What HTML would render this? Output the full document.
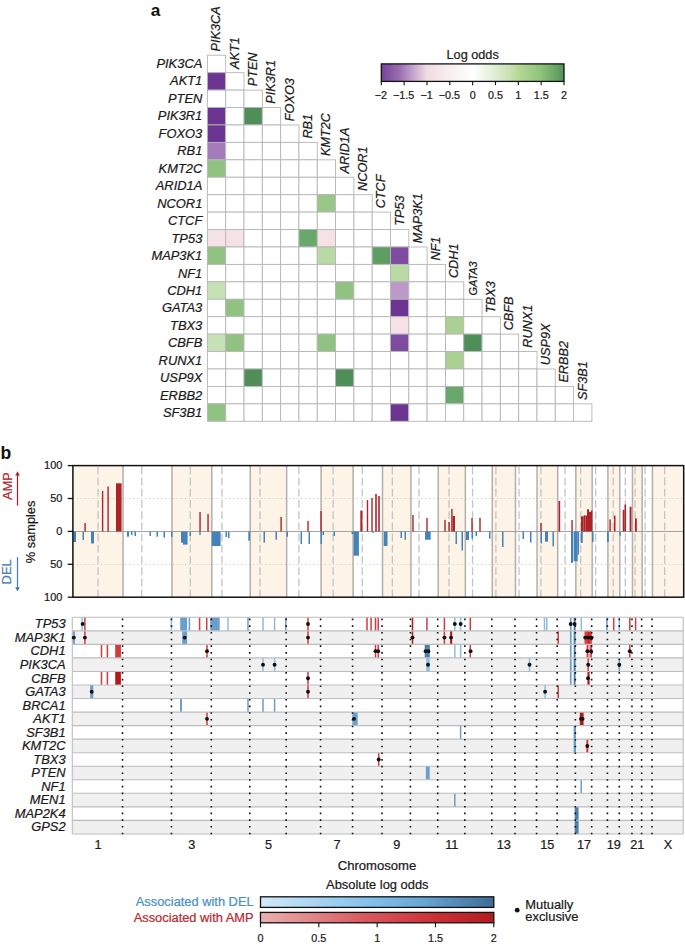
<!DOCTYPE html>
<html><head><meta charset="utf-8"><style>
html,body{margin:0;padding:0;background:#fff;width:685px;height:944px;overflow:hidden;}
svg{display:block;}
svg text{font-family:"Liberation Sans", sans-serif;}
</style></head><body>
<svg width="685" height="944" viewBox="0 0 685 944">
<rect width="685" height="944" fill="#fff"/>
<g>
<rect x="207.40" y="55.25" width="18.31" height="17.43" fill="#ffffff" stroke="#b6b6b6" stroke-width="0.9"/>
<rect x="207.40" y="72.68" width="18.31" height="17.43" fill="#6c3592" stroke="#b6b6b6" stroke-width="0.9"/>
<rect x="225.71" y="72.68" width="18.31" height="17.43" fill="#ffffff" stroke="#b6b6b6" stroke-width="0.9"/>
<rect x="207.40" y="90.11" width="18.31" height="17.43" fill="#ffffff" stroke="#b6b6b6" stroke-width="0.9"/>
<rect x="225.71" y="90.11" width="18.31" height="17.43" fill="#ffffff" stroke="#b6b6b6" stroke-width="0.9"/>
<rect x="244.02" y="90.11" width="18.31" height="17.43" fill="#ffffff" stroke="#b6b6b6" stroke-width="0.9"/>
<rect x="207.40" y="107.54" width="18.31" height="17.43" fill="#6c3592" stroke="#b6b6b6" stroke-width="0.9"/>
<rect x="225.71" y="107.54" width="18.31" height="17.43" fill="#ffffff" stroke="#b6b6b6" stroke-width="0.9"/>
<rect x="244.02" y="107.54" width="18.31" height="17.43" fill="#4f8d59" stroke="#b6b6b6" stroke-width="0.9"/>
<rect x="262.33" y="107.54" width="18.31" height="17.43" fill="#ffffff" stroke="#b6b6b6" stroke-width="0.9"/>
<rect x="207.40" y="124.97" width="18.31" height="17.43" fill="#6c3592" stroke="#b6b6b6" stroke-width="0.9"/>
<rect x="225.71" y="124.97" width="18.31" height="17.43" fill="#ffffff" stroke="#b6b6b6" stroke-width="0.9"/>
<rect x="244.02" y="124.97" width="18.31" height="17.43" fill="#ffffff" stroke="#b6b6b6" stroke-width="0.9"/>
<rect x="262.33" y="124.97" width="18.31" height="17.43" fill="#ffffff" stroke="#b6b6b6" stroke-width="0.9"/>
<rect x="280.64" y="124.97" width="18.31" height="17.43" fill="#ffffff" stroke="#b6b6b6" stroke-width="0.9"/>
<rect x="207.40" y="142.40" width="18.31" height="17.43" fill="#a57bbb" stroke="#b6b6b6" stroke-width="0.9"/>
<rect x="225.71" y="142.40" width="18.31" height="17.43" fill="#ffffff" stroke="#b6b6b6" stroke-width="0.9"/>
<rect x="244.02" y="142.40" width="18.31" height="17.43" fill="#ffffff" stroke="#b6b6b6" stroke-width="0.9"/>
<rect x="262.33" y="142.40" width="18.31" height="17.43" fill="#ffffff" stroke="#b6b6b6" stroke-width="0.9"/>
<rect x="280.64" y="142.40" width="18.31" height="17.43" fill="#ffffff" stroke="#b6b6b6" stroke-width="0.9"/>
<rect x="298.95" y="142.40" width="18.31" height="17.43" fill="#ffffff" stroke="#b6b6b6" stroke-width="0.9"/>
<rect x="207.40" y="159.83" width="18.31" height="17.43" fill="#90c281" stroke="#b6b6b6" stroke-width="0.9"/>
<rect x="225.71" y="159.83" width="18.31" height="17.43" fill="#ffffff" stroke="#b6b6b6" stroke-width="0.9"/>
<rect x="244.02" y="159.83" width="18.31" height="17.43" fill="#ffffff" stroke="#b6b6b6" stroke-width="0.9"/>
<rect x="262.33" y="159.83" width="18.31" height="17.43" fill="#ffffff" stroke="#b6b6b6" stroke-width="0.9"/>
<rect x="280.64" y="159.83" width="18.31" height="17.43" fill="#ffffff" stroke="#b6b6b6" stroke-width="0.9"/>
<rect x="298.95" y="159.83" width="18.31" height="17.43" fill="#ffffff" stroke="#b6b6b6" stroke-width="0.9"/>
<rect x="317.26" y="159.83" width="18.31" height="17.43" fill="#ffffff" stroke="#b6b6b6" stroke-width="0.9"/>
<rect x="207.40" y="177.26" width="18.31" height="17.43" fill="#ffffff" stroke="#b6b6b6" stroke-width="0.9"/>
<rect x="225.71" y="177.26" width="18.31" height="17.43" fill="#ffffff" stroke="#b6b6b6" stroke-width="0.9"/>
<rect x="244.02" y="177.26" width="18.31" height="17.43" fill="#ffffff" stroke="#b6b6b6" stroke-width="0.9"/>
<rect x="262.33" y="177.26" width="18.31" height="17.43" fill="#ffffff" stroke="#b6b6b6" stroke-width="0.9"/>
<rect x="280.64" y="177.26" width="18.31" height="17.43" fill="#ffffff" stroke="#b6b6b6" stroke-width="0.9"/>
<rect x="298.95" y="177.26" width="18.31" height="17.43" fill="#ffffff" stroke="#b6b6b6" stroke-width="0.9"/>
<rect x="317.26" y="177.26" width="18.31" height="17.43" fill="#ffffff" stroke="#b6b6b6" stroke-width="0.9"/>
<rect x="335.57" y="177.26" width="18.31" height="17.43" fill="#ffffff" stroke="#b6b6b6" stroke-width="0.9"/>
<rect x="207.40" y="194.69" width="18.31" height="17.43" fill="#ffffff" stroke="#b6b6b6" stroke-width="0.9"/>
<rect x="225.71" y="194.69" width="18.31" height="17.43" fill="#ffffff" stroke="#b6b6b6" stroke-width="0.9"/>
<rect x="244.02" y="194.69" width="18.31" height="17.43" fill="#ffffff" stroke="#b6b6b6" stroke-width="0.9"/>
<rect x="262.33" y="194.69" width="18.31" height="17.43" fill="#ffffff" stroke="#b6b6b6" stroke-width="0.9"/>
<rect x="280.64" y="194.69" width="18.31" height="17.43" fill="#ffffff" stroke="#b6b6b6" stroke-width="0.9"/>
<rect x="298.95" y="194.69" width="18.31" height="17.43" fill="#ffffff" stroke="#b6b6b6" stroke-width="0.9"/>
<rect x="317.26" y="194.69" width="18.31" height="17.43" fill="#98c788" stroke="#b6b6b6" stroke-width="0.9"/>
<rect x="335.57" y="194.69" width="18.31" height="17.43" fill="#ffffff" stroke="#b6b6b6" stroke-width="0.9"/>
<rect x="353.88" y="194.69" width="18.31" height="17.43" fill="#ffffff" stroke="#b6b6b6" stroke-width="0.9"/>
<rect x="207.40" y="212.12" width="18.31" height="17.43" fill="#ffffff" stroke="#b6b6b6" stroke-width="0.9"/>
<rect x="225.71" y="212.12" width="18.31" height="17.43" fill="#ffffff" stroke="#b6b6b6" stroke-width="0.9"/>
<rect x="244.02" y="212.12" width="18.31" height="17.43" fill="#ffffff" stroke="#b6b6b6" stroke-width="0.9"/>
<rect x="262.33" y="212.12" width="18.31" height="17.43" fill="#ffffff" stroke="#b6b6b6" stroke-width="0.9"/>
<rect x="280.64" y="212.12" width="18.31" height="17.43" fill="#ffffff" stroke="#b6b6b6" stroke-width="0.9"/>
<rect x="298.95" y="212.12" width="18.31" height="17.43" fill="#ffffff" stroke="#b6b6b6" stroke-width="0.9"/>
<rect x="317.26" y="212.12" width="18.31" height="17.43" fill="#ffffff" stroke="#b6b6b6" stroke-width="0.9"/>
<rect x="335.57" y="212.12" width="18.31" height="17.43" fill="#ffffff" stroke="#b6b6b6" stroke-width="0.9"/>
<rect x="353.88" y="212.12" width="18.31" height="17.43" fill="#ffffff" stroke="#b6b6b6" stroke-width="0.9"/>
<rect x="372.19" y="212.12" width="18.31" height="17.43" fill="#ffffff" stroke="#b6b6b6" stroke-width="0.9"/>
<rect x="207.40" y="229.55" width="18.31" height="17.43" fill="#f5e2e4" stroke="#b6b6b6" stroke-width="0.9"/>
<rect x="225.71" y="229.55" width="18.31" height="17.43" fill="#f5e2e4" stroke="#b6b6b6" stroke-width="0.9"/>
<rect x="244.02" y="229.55" width="18.31" height="17.43" fill="#ffffff" stroke="#b6b6b6" stroke-width="0.9"/>
<rect x="262.33" y="229.55" width="18.31" height="17.43" fill="#ffffff" stroke="#b6b6b6" stroke-width="0.9"/>
<rect x="280.64" y="229.55" width="18.31" height="17.43" fill="#ffffff" stroke="#b6b6b6" stroke-width="0.9"/>
<rect x="298.95" y="229.55" width="18.31" height="17.43" fill="#68a86c" stroke="#b6b6b6" stroke-width="0.9"/>
<rect x="317.26" y="229.55" width="18.31" height="17.43" fill="#f5e2e4" stroke="#b6b6b6" stroke-width="0.9"/>
<rect x="335.57" y="229.55" width="18.31" height="17.43" fill="#ffffff" stroke="#b6b6b6" stroke-width="0.9"/>
<rect x="353.88" y="229.55" width="18.31" height="17.43" fill="#ffffff" stroke="#b6b6b6" stroke-width="0.9"/>
<rect x="372.19" y="229.55" width="18.31" height="17.43" fill="#ffffff" stroke="#b6b6b6" stroke-width="0.9"/>
<rect x="390.50" y="229.55" width="18.31" height="17.43" fill="#ffffff" stroke="#b6b6b6" stroke-width="0.9"/>
<rect x="207.40" y="246.98" width="18.31" height="17.43" fill="#90c281" stroke="#b6b6b6" stroke-width="0.9"/>
<rect x="225.71" y="246.98" width="18.31" height="17.43" fill="#ffffff" stroke="#b6b6b6" stroke-width="0.9"/>
<rect x="244.02" y="246.98" width="18.31" height="17.43" fill="#ffffff" stroke="#b6b6b6" stroke-width="0.9"/>
<rect x="262.33" y="246.98" width="18.31" height="17.43" fill="#ffffff" stroke="#b6b6b6" stroke-width="0.9"/>
<rect x="280.64" y="246.98" width="18.31" height="17.43" fill="#ffffff" stroke="#b6b6b6" stroke-width="0.9"/>
<rect x="298.95" y="246.98" width="18.31" height="17.43" fill="#ffffff" stroke="#b6b6b6" stroke-width="0.9"/>
<rect x="317.26" y="246.98" width="18.31" height="17.43" fill="#b9daa4" stroke="#b6b6b6" stroke-width="0.9"/>
<rect x="335.57" y="246.98" width="18.31" height="17.43" fill="#ffffff" stroke="#b6b6b6" stroke-width="0.9"/>
<rect x="353.88" y="246.98" width="18.31" height="17.43" fill="#ffffff" stroke="#b6b6b6" stroke-width="0.9"/>
<rect x="372.19" y="246.98" width="18.31" height="17.43" fill="#5f9e63" stroke="#b6b6b6" stroke-width="0.9"/>
<rect x="390.50" y="246.98" width="18.31" height="17.43" fill="#7d4c9e" stroke="#b6b6b6" stroke-width="0.9"/>
<rect x="408.81" y="246.98" width="18.31" height="17.43" fill="#ffffff" stroke="#b6b6b6" stroke-width="0.9"/>
<rect x="207.40" y="264.41" width="18.31" height="17.43" fill="#ffffff" stroke="#b6b6b6" stroke-width="0.9"/>
<rect x="225.71" y="264.41" width="18.31" height="17.43" fill="#ffffff" stroke="#b6b6b6" stroke-width="0.9"/>
<rect x="244.02" y="264.41" width="18.31" height="17.43" fill="#ffffff" stroke="#b6b6b6" stroke-width="0.9"/>
<rect x="262.33" y="264.41" width="18.31" height="17.43" fill="#ffffff" stroke="#b6b6b6" stroke-width="0.9"/>
<rect x="280.64" y="264.41" width="18.31" height="17.43" fill="#ffffff" stroke="#b6b6b6" stroke-width="0.9"/>
<rect x="298.95" y="264.41" width="18.31" height="17.43" fill="#ffffff" stroke="#b6b6b6" stroke-width="0.9"/>
<rect x="317.26" y="264.41" width="18.31" height="17.43" fill="#ffffff" stroke="#b6b6b6" stroke-width="0.9"/>
<rect x="335.57" y="264.41" width="18.31" height="17.43" fill="#ffffff" stroke="#b6b6b6" stroke-width="0.9"/>
<rect x="353.88" y="264.41" width="18.31" height="17.43" fill="#ffffff" stroke="#b6b6b6" stroke-width="0.9"/>
<rect x="372.19" y="264.41" width="18.31" height="17.43" fill="#ffffff" stroke="#b6b6b6" stroke-width="0.9"/>
<rect x="390.50" y="264.41" width="18.31" height="17.43" fill="#b9daa4" stroke="#b6b6b6" stroke-width="0.9"/>
<rect x="408.81" y="264.41" width="18.31" height="17.43" fill="#ffffff" stroke="#b6b6b6" stroke-width="0.9"/>
<rect x="427.12" y="264.41" width="18.31" height="17.43" fill="#ffffff" stroke="#b6b6b6" stroke-width="0.9"/>
<rect x="207.40" y="281.84" width="18.31" height="17.43" fill="#c5e1b5" stroke="#b6b6b6" stroke-width="0.9"/>
<rect x="225.71" y="281.84" width="18.31" height="17.43" fill="#ffffff" stroke="#b6b6b6" stroke-width="0.9"/>
<rect x="244.02" y="281.84" width="18.31" height="17.43" fill="#ffffff" stroke="#b6b6b6" stroke-width="0.9"/>
<rect x="262.33" y="281.84" width="18.31" height="17.43" fill="#ffffff" stroke="#b6b6b6" stroke-width="0.9"/>
<rect x="280.64" y="281.84" width="18.31" height="17.43" fill="#ffffff" stroke="#b6b6b6" stroke-width="0.9"/>
<rect x="298.95" y="281.84" width="18.31" height="17.43" fill="#ffffff" stroke="#b6b6b6" stroke-width="0.9"/>
<rect x="317.26" y="281.84" width="18.31" height="17.43" fill="#ffffff" stroke="#b6b6b6" stroke-width="0.9"/>
<rect x="335.57" y="281.84" width="18.31" height="17.43" fill="#90c281" stroke="#b6b6b6" stroke-width="0.9"/>
<rect x="353.88" y="281.84" width="18.31" height="17.43" fill="#ffffff" stroke="#b6b6b6" stroke-width="0.9"/>
<rect x="372.19" y="281.84" width="18.31" height="17.43" fill="#ffffff" stroke="#b6b6b6" stroke-width="0.9"/>
<rect x="390.50" y="281.84" width="18.31" height="17.43" fill="#bc99c9" stroke="#b6b6b6" stroke-width="0.9"/>
<rect x="408.81" y="281.84" width="18.31" height="17.43" fill="#ffffff" stroke="#b6b6b6" stroke-width="0.9"/>
<rect x="427.12" y="281.84" width="18.31" height="17.43" fill="#ffffff" stroke="#b6b6b6" stroke-width="0.9"/>
<rect x="445.43" y="281.84" width="18.31" height="17.43" fill="#ffffff" stroke="#b6b6b6" stroke-width="0.9"/>
<rect x="207.40" y="299.27" width="18.31" height="17.43" fill="#ffffff" stroke="#b6b6b6" stroke-width="0.9"/>
<rect x="225.71" y="299.27" width="18.31" height="17.43" fill="#90c281" stroke="#b6b6b6" stroke-width="0.9"/>
<rect x="244.02" y="299.27" width="18.31" height="17.43" fill="#ffffff" stroke="#b6b6b6" stroke-width="0.9"/>
<rect x="262.33" y="299.27" width="18.31" height="17.43" fill="#ffffff" stroke="#b6b6b6" stroke-width="0.9"/>
<rect x="280.64" y="299.27" width="18.31" height="17.43" fill="#ffffff" stroke="#b6b6b6" stroke-width="0.9"/>
<rect x="298.95" y="299.27" width="18.31" height="17.43" fill="#ffffff" stroke="#b6b6b6" stroke-width="0.9"/>
<rect x="317.26" y="299.27" width="18.31" height="17.43" fill="#ffffff" stroke="#b6b6b6" stroke-width="0.9"/>
<rect x="335.57" y="299.27" width="18.31" height="17.43" fill="#ffffff" stroke="#b6b6b6" stroke-width="0.9"/>
<rect x="353.88" y="299.27" width="18.31" height="17.43" fill="#ffffff" stroke="#b6b6b6" stroke-width="0.9"/>
<rect x="372.19" y="299.27" width="18.31" height="17.43" fill="#ffffff" stroke="#b6b6b6" stroke-width="0.9"/>
<rect x="390.50" y="299.27" width="18.31" height="17.43" fill="#6c3592" stroke="#b6b6b6" stroke-width="0.9"/>
<rect x="408.81" y="299.27" width="18.31" height="17.43" fill="#ffffff" stroke="#b6b6b6" stroke-width="0.9"/>
<rect x="427.12" y="299.27" width="18.31" height="17.43" fill="#ffffff" stroke="#b6b6b6" stroke-width="0.9"/>
<rect x="445.43" y="299.27" width="18.31" height="17.43" fill="#ffffff" stroke="#b6b6b6" stroke-width="0.9"/>
<rect x="463.74" y="299.27" width="18.31" height="17.43" fill="#ffffff" stroke="#b6b6b6" stroke-width="0.9"/>
<rect x="207.40" y="316.70" width="18.31" height="17.43" fill="#ffffff" stroke="#b6b6b6" stroke-width="0.9"/>
<rect x="225.71" y="316.70" width="18.31" height="17.43" fill="#ffffff" stroke="#b6b6b6" stroke-width="0.9"/>
<rect x="244.02" y="316.70" width="18.31" height="17.43" fill="#ffffff" stroke="#b6b6b6" stroke-width="0.9"/>
<rect x="262.33" y="316.70" width="18.31" height="17.43" fill="#ffffff" stroke="#b6b6b6" stroke-width="0.9"/>
<rect x="280.64" y="316.70" width="18.31" height="17.43" fill="#ffffff" stroke="#b6b6b6" stroke-width="0.9"/>
<rect x="298.95" y="316.70" width="18.31" height="17.43" fill="#ffffff" stroke="#b6b6b6" stroke-width="0.9"/>
<rect x="317.26" y="316.70" width="18.31" height="17.43" fill="#ffffff" stroke="#b6b6b6" stroke-width="0.9"/>
<rect x="335.57" y="316.70" width="18.31" height="17.43" fill="#ffffff" stroke="#b6b6b6" stroke-width="0.9"/>
<rect x="353.88" y="316.70" width="18.31" height="17.43" fill="#ffffff" stroke="#b6b6b6" stroke-width="0.9"/>
<rect x="372.19" y="316.70" width="18.31" height="17.43" fill="#ffffff" stroke="#b6b6b6" stroke-width="0.9"/>
<rect x="390.50" y="316.70" width="18.31" height="17.43" fill="#f5e2e4" stroke="#b6b6b6" stroke-width="0.9"/>
<rect x="408.81" y="316.70" width="18.31" height="17.43" fill="#ffffff" stroke="#b6b6b6" stroke-width="0.9"/>
<rect x="427.12" y="316.70" width="18.31" height="17.43" fill="#ffffff" stroke="#b6b6b6" stroke-width="0.9"/>
<rect x="445.43" y="316.70" width="18.31" height="17.43" fill="#aad193" stroke="#b6b6b6" stroke-width="0.9"/>
<rect x="463.74" y="316.70" width="18.31" height="17.43" fill="#ffffff" stroke="#b6b6b6" stroke-width="0.9"/>
<rect x="482.05" y="316.70" width="18.31" height="17.43" fill="#ffffff" stroke="#b6b6b6" stroke-width="0.9"/>
<rect x="207.40" y="334.13" width="18.31" height="17.43" fill="#c5e1b5" stroke="#b6b6b6" stroke-width="0.9"/>
<rect x="225.71" y="334.13" width="18.31" height="17.43" fill="#90c281" stroke="#b6b6b6" stroke-width="0.9"/>
<rect x="244.02" y="334.13" width="18.31" height="17.43" fill="#ffffff" stroke="#b6b6b6" stroke-width="0.9"/>
<rect x="262.33" y="334.13" width="18.31" height="17.43" fill="#ffffff" stroke="#b6b6b6" stroke-width="0.9"/>
<rect x="280.64" y="334.13" width="18.31" height="17.43" fill="#ffffff" stroke="#b6b6b6" stroke-width="0.9"/>
<rect x="298.95" y="334.13" width="18.31" height="17.43" fill="#ffffff" stroke="#b6b6b6" stroke-width="0.9"/>
<rect x="317.26" y="334.13" width="18.31" height="17.43" fill="#90c281" stroke="#b6b6b6" stroke-width="0.9"/>
<rect x="335.57" y="334.13" width="18.31" height="17.43" fill="#ffffff" stroke="#b6b6b6" stroke-width="0.9"/>
<rect x="353.88" y="334.13" width="18.31" height="17.43" fill="#ffffff" stroke="#b6b6b6" stroke-width="0.9"/>
<rect x="372.19" y="334.13" width="18.31" height="17.43" fill="#ffffff" stroke="#b6b6b6" stroke-width="0.9"/>
<rect x="390.50" y="334.13" width="18.31" height="17.43" fill="#7d4c9e" stroke="#b6b6b6" stroke-width="0.9"/>
<rect x="408.81" y="334.13" width="18.31" height="17.43" fill="#ffffff" stroke="#b6b6b6" stroke-width="0.9"/>
<rect x="427.12" y="334.13" width="18.31" height="17.43" fill="#ffffff" stroke="#b6b6b6" stroke-width="0.9"/>
<rect x="445.43" y="334.13" width="18.31" height="17.43" fill="#ffffff" stroke="#b6b6b6" stroke-width="0.9"/>
<rect x="463.74" y="334.13" width="18.31" height="17.43" fill="#4f8d59" stroke="#b6b6b6" stroke-width="0.9"/>
<rect x="482.05" y="334.13" width="18.31" height="17.43" fill="#ffffff" stroke="#b6b6b6" stroke-width="0.9"/>
<rect x="500.36" y="334.13" width="18.31" height="17.43" fill="#ffffff" stroke="#b6b6b6" stroke-width="0.9"/>
<rect x="207.40" y="351.56" width="18.31" height="17.43" fill="#ffffff" stroke="#b6b6b6" stroke-width="0.9"/>
<rect x="225.71" y="351.56" width="18.31" height="17.43" fill="#ffffff" stroke="#b6b6b6" stroke-width="0.9"/>
<rect x="244.02" y="351.56" width="18.31" height="17.43" fill="#ffffff" stroke="#b6b6b6" stroke-width="0.9"/>
<rect x="262.33" y="351.56" width="18.31" height="17.43" fill="#ffffff" stroke="#b6b6b6" stroke-width="0.9"/>
<rect x="280.64" y="351.56" width="18.31" height="17.43" fill="#ffffff" stroke="#b6b6b6" stroke-width="0.9"/>
<rect x="298.95" y="351.56" width="18.31" height="17.43" fill="#ffffff" stroke="#b6b6b6" stroke-width="0.9"/>
<rect x="317.26" y="351.56" width="18.31" height="17.43" fill="#ffffff" stroke="#b6b6b6" stroke-width="0.9"/>
<rect x="335.57" y="351.56" width="18.31" height="17.43" fill="#ffffff" stroke="#b6b6b6" stroke-width="0.9"/>
<rect x="353.88" y="351.56" width="18.31" height="17.43" fill="#ffffff" stroke="#b6b6b6" stroke-width="0.9"/>
<rect x="372.19" y="351.56" width="18.31" height="17.43" fill="#ffffff" stroke="#b6b6b6" stroke-width="0.9"/>
<rect x="390.50" y="351.56" width="18.31" height="17.43" fill="#ffffff" stroke="#b6b6b6" stroke-width="0.9"/>
<rect x="408.81" y="351.56" width="18.31" height="17.43" fill="#ffffff" stroke="#b6b6b6" stroke-width="0.9"/>
<rect x="427.12" y="351.56" width="18.31" height="17.43" fill="#ffffff" stroke="#b6b6b6" stroke-width="0.9"/>
<rect x="445.43" y="351.56" width="18.31" height="17.43" fill="#aad193" stroke="#b6b6b6" stroke-width="0.9"/>
<rect x="463.74" y="351.56" width="18.31" height="17.43" fill="#ffffff" stroke="#b6b6b6" stroke-width="0.9"/>
<rect x="482.05" y="351.56" width="18.31" height="17.43" fill="#ffffff" stroke="#b6b6b6" stroke-width="0.9"/>
<rect x="500.36" y="351.56" width="18.31" height="17.43" fill="#ffffff" stroke="#b6b6b6" stroke-width="0.9"/>
<rect x="518.67" y="351.56" width="18.31" height="17.43" fill="#ffffff" stroke="#b6b6b6" stroke-width="0.9"/>
<rect x="207.40" y="368.99" width="18.31" height="17.43" fill="#ffffff" stroke="#b6b6b6" stroke-width="0.9"/>
<rect x="225.71" y="368.99" width="18.31" height="17.43" fill="#ffffff" stroke="#b6b6b6" stroke-width="0.9"/>
<rect x="244.02" y="368.99" width="18.31" height="17.43" fill="#4f8d59" stroke="#b6b6b6" stroke-width="0.9"/>
<rect x="262.33" y="368.99" width="18.31" height="17.43" fill="#ffffff" stroke="#b6b6b6" stroke-width="0.9"/>
<rect x="280.64" y="368.99" width="18.31" height="17.43" fill="#ffffff" stroke="#b6b6b6" stroke-width="0.9"/>
<rect x="298.95" y="368.99" width="18.31" height="17.43" fill="#ffffff" stroke="#b6b6b6" stroke-width="0.9"/>
<rect x="317.26" y="368.99" width="18.31" height="17.43" fill="#ffffff" stroke="#b6b6b6" stroke-width="0.9"/>
<rect x="335.57" y="368.99" width="18.31" height="17.43" fill="#4f8d59" stroke="#b6b6b6" stroke-width="0.9"/>
<rect x="353.88" y="368.99" width="18.31" height="17.43" fill="#ffffff" stroke="#b6b6b6" stroke-width="0.9"/>
<rect x="372.19" y="368.99" width="18.31" height="17.43" fill="#ffffff" stroke="#b6b6b6" stroke-width="0.9"/>
<rect x="390.50" y="368.99" width="18.31" height="17.43" fill="#ffffff" stroke="#b6b6b6" stroke-width="0.9"/>
<rect x="408.81" y="368.99" width="18.31" height="17.43" fill="#ffffff" stroke="#b6b6b6" stroke-width="0.9"/>
<rect x="427.12" y="368.99" width="18.31" height="17.43" fill="#ffffff" stroke="#b6b6b6" stroke-width="0.9"/>
<rect x="445.43" y="368.99" width="18.31" height="17.43" fill="#ffffff" stroke="#b6b6b6" stroke-width="0.9"/>
<rect x="463.74" y="368.99" width="18.31" height="17.43" fill="#ffffff" stroke="#b6b6b6" stroke-width="0.9"/>
<rect x="482.05" y="368.99" width="18.31" height="17.43" fill="#ffffff" stroke="#b6b6b6" stroke-width="0.9"/>
<rect x="500.36" y="368.99" width="18.31" height="17.43" fill="#ffffff" stroke="#b6b6b6" stroke-width="0.9"/>
<rect x="518.67" y="368.99" width="18.31" height="17.43" fill="#ffffff" stroke="#b6b6b6" stroke-width="0.9"/>
<rect x="536.98" y="368.99" width="18.31" height="17.43" fill="#ffffff" stroke="#b6b6b6" stroke-width="0.9"/>
<rect x="207.40" y="386.42" width="18.31" height="17.43" fill="#ffffff" stroke="#b6b6b6" stroke-width="0.9"/>
<rect x="225.71" y="386.42" width="18.31" height="17.43" fill="#ffffff" stroke="#b6b6b6" stroke-width="0.9"/>
<rect x="244.02" y="386.42" width="18.31" height="17.43" fill="#ffffff" stroke="#b6b6b6" stroke-width="0.9"/>
<rect x="262.33" y="386.42" width="18.31" height="17.43" fill="#ffffff" stroke="#b6b6b6" stroke-width="0.9"/>
<rect x="280.64" y="386.42" width="18.31" height="17.43" fill="#ffffff" stroke="#b6b6b6" stroke-width="0.9"/>
<rect x="298.95" y="386.42" width="18.31" height="17.43" fill="#ffffff" stroke="#b6b6b6" stroke-width="0.9"/>
<rect x="317.26" y="386.42" width="18.31" height="17.43" fill="#ffffff" stroke="#b6b6b6" stroke-width="0.9"/>
<rect x="335.57" y="386.42" width="18.31" height="17.43" fill="#ffffff" stroke="#b6b6b6" stroke-width="0.9"/>
<rect x="353.88" y="386.42" width="18.31" height="17.43" fill="#ffffff" stroke="#b6b6b6" stroke-width="0.9"/>
<rect x="372.19" y="386.42" width="18.31" height="17.43" fill="#ffffff" stroke="#b6b6b6" stroke-width="0.9"/>
<rect x="390.50" y="386.42" width="18.31" height="17.43" fill="#ffffff" stroke="#b6b6b6" stroke-width="0.9"/>
<rect x="408.81" y="386.42" width="18.31" height="17.43" fill="#ffffff" stroke="#b6b6b6" stroke-width="0.9"/>
<rect x="427.12" y="386.42" width="18.31" height="17.43" fill="#ffffff" stroke="#b6b6b6" stroke-width="0.9"/>
<rect x="445.43" y="386.42" width="18.31" height="17.43" fill="#68a86c" stroke="#b6b6b6" stroke-width="0.9"/>
<rect x="463.74" y="386.42" width="18.31" height="17.43" fill="#ffffff" stroke="#b6b6b6" stroke-width="0.9"/>
<rect x="482.05" y="386.42" width="18.31" height="17.43" fill="#ffffff" stroke="#b6b6b6" stroke-width="0.9"/>
<rect x="500.36" y="386.42" width="18.31" height="17.43" fill="#ffffff" stroke="#b6b6b6" stroke-width="0.9"/>
<rect x="518.67" y="386.42" width="18.31" height="17.43" fill="#ffffff" stroke="#b6b6b6" stroke-width="0.9"/>
<rect x="536.98" y="386.42" width="18.31" height="17.43" fill="#ffffff" stroke="#b6b6b6" stroke-width="0.9"/>
<rect x="555.29" y="386.42" width="18.31" height="17.43" fill="#ffffff" stroke="#b6b6b6" stroke-width="0.9"/>
<rect x="207.40" y="403.85" width="18.31" height="17.43" fill="#90c281" stroke="#b6b6b6" stroke-width="0.9"/>
<rect x="225.71" y="403.85" width="18.31" height="17.43" fill="#ffffff" stroke="#b6b6b6" stroke-width="0.9"/>
<rect x="244.02" y="403.85" width="18.31" height="17.43" fill="#ffffff" stroke="#b6b6b6" stroke-width="0.9"/>
<rect x="262.33" y="403.85" width="18.31" height="17.43" fill="#ffffff" stroke="#b6b6b6" stroke-width="0.9"/>
<rect x="280.64" y="403.85" width="18.31" height="17.43" fill="#ffffff" stroke="#b6b6b6" stroke-width="0.9"/>
<rect x="298.95" y="403.85" width="18.31" height="17.43" fill="#ffffff" stroke="#b6b6b6" stroke-width="0.9"/>
<rect x="317.26" y="403.85" width="18.31" height="17.43" fill="#ffffff" stroke="#b6b6b6" stroke-width="0.9"/>
<rect x="335.57" y="403.85" width="18.31" height="17.43" fill="#ffffff" stroke="#b6b6b6" stroke-width="0.9"/>
<rect x="353.88" y="403.85" width="18.31" height="17.43" fill="#ffffff" stroke="#b6b6b6" stroke-width="0.9"/>
<rect x="372.19" y="403.85" width="18.31" height="17.43" fill="#ffffff" stroke="#b6b6b6" stroke-width="0.9"/>
<rect x="390.50" y="403.85" width="18.31" height="17.43" fill="#6c3592" stroke="#b6b6b6" stroke-width="0.9"/>
<rect x="408.81" y="403.85" width="18.31" height="17.43" fill="#ffffff" stroke="#b6b6b6" stroke-width="0.9"/>
<rect x="427.12" y="403.85" width="18.31" height="17.43" fill="#ffffff" stroke="#b6b6b6" stroke-width="0.9"/>
<rect x="445.43" y="403.85" width="18.31" height="17.43" fill="#ffffff" stroke="#b6b6b6" stroke-width="0.9"/>
<rect x="463.74" y="403.85" width="18.31" height="17.43" fill="#ffffff" stroke="#b6b6b6" stroke-width="0.9"/>
<rect x="482.05" y="403.85" width="18.31" height="17.43" fill="#ffffff" stroke="#b6b6b6" stroke-width="0.9"/>
<rect x="500.36" y="403.85" width="18.31" height="17.43" fill="#ffffff" stroke="#b6b6b6" stroke-width="0.9"/>
<rect x="518.67" y="403.85" width="18.31" height="17.43" fill="#ffffff" stroke="#b6b6b6" stroke-width="0.9"/>
<rect x="536.98" y="403.85" width="18.31" height="17.43" fill="#ffffff" stroke="#b6b6b6" stroke-width="0.9"/>
<rect x="555.29" y="403.85" width="18.31" height="17.43" fill="#ffffff" stroke="#b6b6b6" stroke-width="0.9"/>
<rect x="573.60" y="403.85" width="18.31" height="17.43" fill="#ffffff" stroke="#b6b6b6" stroke-width="0.9"/>
</g>
<text x="202.30" y="67.77" font-size="12.9" text-anchor="end" fill="#1a1a1a" stroke="#1a1a1a" stroke-width="0.22" font-style="italic" >PIK3CA</text>
<text x="202.30" y="85.25" font-size="12.9" text-anchor="end" fill="#1a1a1a" stroke="#1a1a1a" stroke-width="0.22" font-style="italic" >AKT1</text>
<text x="202.30" y="102.73" font-size="12.9" text-anchor="end" fill="#1a1a1a" stroke="#1a1a1a" stroke-width="0.22" font-style="italic" >PTEN</text>
<text x="202.30" y="120.20" font-size="12.9" text-anchor="end" fill="#1a1a1a" stroke="#1a1a1a" stroke-width="0.22" font-style="italic" >PIK3R1</text>
<text x="202.30" y="137.69" font-size="12.9" text-anchor="end" fill="#1a1a1a" stroke="#1a1a1a" stroke-width="0.22" font-style="italic" >FOXO3</text>
<text x="202.30" y="155.17" font-size="12.9" text-anchor="end" fill="#1a1a1a" stroke="#1a1a1a" stroke-width="0.22" font-style="italic" >RB1</text>
<text x="202.30" y="172.65" font-size="12.9" text-anchor="end" fill="#1a1a1a" stroke="#1a1a1a" stroke-width="0.22" font-style="italic" >KMT2C</text>
<text x="202.30" y="190.13" font-size="12.9" text-anchor="end" fill="#1a1a1a" stroke="#1a1a1a" stroke-width="0.22" font-style="italic" >ARID1A</text>
<text x="202.30" y="207.61" font-size="12.9" text-anchor="end" fill="#1a1a1a" stroke="#1a1a1a" stroke-width="0.22" font-style="italic" >NCOR1</text>
<text x="202.30" y="225.09" font-size="12.9" text-anchor="end" fill="#1a1a1a" stroke="#1a1a1a" stroke-width="0.22" font-style="italic" >CTCF</text>
<text x="202.30" y="242.57" font-size="12.9" text-anchor="end" fill="#1a1a1a" stroke="#1a1a1a" stroke-width="0.22" font-style="italic" >TP53</text>
<text x="202.30" y="260.05" font-size="12.9" text-anchor="end" fill="#1a1a1a" stroke="#1a1a1a" stroke-width="0.22" font-style="italic" >MAP3K1</text>
<text x="202.30" y="277.52" font-size="12.9" text-anchor="end" fill="#1a1a1a" stroke="#1a1a1a" stroke-width="0.22" font-style="italic" >NF1</text>
<text x="202.30" y="295.00" font-size="12.9" text-anchor="end" fill="#1a1a1a" stroke="#1a1a1a" stroke-width="0.22" font-style="italic" >CDH1</text>
<text x="202.30" y="312.49" font-size="12.9" text-anchor="end" fill="#1a1a1a" stroke="#1a1a1a" stroke-width="0.22" font-style="italic" >GATA3</text>
<text x="202.30" y="329.96" font-size="12.9" text-anchor="end" fill="#1a1a1a" stroke="#1a1a1a" stroke-width="0.22" font-style="italic" >TBX3</text>
<text x="202.30" y="347.44" font-size="12.9" text-anchor="end" fill="#1a1a1a" stroke="#1a1a1a" stroke-width="0.22" font-style="italic" >CBFB</text>
<text x="202.30" y="364.93" font-size="12.9" text-anchor="end" fill="#1a1a1a" stroke="#1a1a1a" stroke-width="0.22" font-style="italic" >RUNX1</text>
<text x="202.30" y="382.40" font-size="12.9" text-anchor="end" fill="#1a1a1a" stroke="#1a1a1a" stroke-width="0.22" font-style="italic" >USP9X</text>
<text x="202.30" y="399.88" font-size="12.9" text-anchor="end" fill="#1a1a1a" stroke="#1a1a1a" stroke-width="0.22" font-style="italic" >ERBB2</text>
<text x="202.30" y="417.37" font-size="12.9" text-anchor="end" fill="#1a1a1a" stroke="#1a1a1a" stroke-width="0.22" font-style="italic" >SF3B1</text>
<text transform="translate(220.46,51.45) rotate(-90)" font-size="12.7" text-anchor="start" fill="#1a1a1a" stroke="#1a1a1a" stroke-width="0.22" font-style="italic" >PIK3CA</text>
<text transform="translate(238.77,68.88) rotate(-90)" font-size="12.7" text-anchor="start" fill="#1a1a1a" stroke="#1a1a1a" stroke-width="0.22" font-style="italic" >AKT1</text>
<text transform="translate(257.07,86.31) rotate(-90)" font-size="12.7" text-anchor="start" fill="#1a1a1a" stroke="#1a1a1a" stroke-width="0.22" font-style="italic" >PTEN</text>
<text transform="translate(275.38,103.74) rotate(-90)" font-size="12.7" text-anchor="start" fill="#1a1a1a" stroke="#1a1a1a" stroke-width="0.22" font-style="italic" >PIK3R1</text>
<text transform="translate(293.69,121.17) rotate(-90)" font-size="12.7" text-anchor="start" fill="#1a1a1a" stroke="#1a1a1a" stroke-width="0.22" font-style="italic" >FOXO3</text>
<text transform="translate(312.00,138.60) rotate(-90)" font-size="12.7" text-anchor="start" fill="#1a1a1a" stroke="#1a1a1a" stroke-width="0.22" font-style="italic" >RB1</text>
<text transform="translate(330.31,156.03) rotate(-90)" font-size="12.7" text-anchor="start" fill="#1a1a1a" stroke="#1a1a1a" stroke-width="0.22" font-style="italic" >KMT2C</text>
<text transform="translate(348.62,173.46) rotate(-90)" font-size="12.7" text-anchor="start" fill="#1a1a1a" stroke="#1a1a1a" stroke-width="0.22" font-style="italic" >ARID1A</text>
<text transform="translate(366.93,190.89) rotate(-90)" font-size="12.7" text-anchor="start" fill="#1a1a1a" stroke="#1a1a1a" stroke-width="0.22" font-style="italic" >NCOR1</text>
<text transform="translate(385.24,208.32) rotate(-90)" font-size="12.7" text-anchor="start" fill="#1a1a1a" stroke="#1a1a1a" stroke-width="0.22" font-style="italic" >CTCF</text>
<text transform="translate(403.55,225.75) rotate(-90)" font-size="12.7" text-anchor="start" fill="#1a1a1a" stroke="#1a1a1a" stroke-width="0.22" font-style="italic" >TP53</text>
<text transform="translate(421.86,243.18) rotate(-90)" font-size="12.7" text-anchor="start" fill="#1a1a1a" stroke="#1a1a1a" stroke-width="0.22" font-style="italic" >MAP3K1</text>
<text transform="translate(440.17,260.61) rotate(-90)" font-size="12.7" text-anchor="start" fill="#1a1a1a" stroke="#1a1a1a" stroke-width="0.22" font-style="italic" >NF1</text>
<text transform="translate(458.48,278.04) rotate(-90)" font-size="12.7" text-anchor="start" fill="#1a1a1a" stroke="#1a1a1a" stroke-width="0.22" font-style="italic" >CDH1</text>
<text transform="translate(476.79,295.47) rotate(-90)" font-size="10.9" text-anchor="start" fill="#1a1a1a" stroke="#1a1a1a" stroke-width="0.22" font-style="italic" >GATA3</text>
<text transform="translate(495.10,312.90) rotate(-90)" font-size="12.7" text-anchor="start" fill="#1a1a1a" stroke="#1a1a1a" stroke-width="0.22" font-style="italic" >TBX3</text>
<text transform="translate(513.41,330.33) rotate(-90)" font-size="12.7" text-anchor="start" fill="#1a1a1a" stroke="#1a1a1a" stroke-width="0.22" font-style="italic" >CBFB</text>
<text transform="translate(531.72,347.76) rotate(-90)" font-size="12.7" text-anchor="start" fill="#1a1a1a" stroke="#1a1a1a" stroke-width="0.22" font-style="italic" >RUNX1</text>
<text transform="translate(550.03,365.19) rotate(-90)" font-size="12.7" text-anchor="start" fill="#1a1a1a" stroke="#1a1a1a" stroke-width="0.22" font-style="italic" >USP9X</text>
<text transform="translate(568.34,382.62) rotate(-90)" font-size="12.7" text-anchor="start" fill="#1a1a1a" stroke="#1a1a1a" stroke-width="0.22" font-style="italic" >ERBB2</text>
<text transform="translate(586.65,400.05) rotate(-90)" font-size="12.7" text-anchor="start" fill="#1a1a1a" stroke="#1a1a1a" stroke-width="0.22" font-style="italic" >SF3B1</text>
<text x="150.80" y="15.90" font-size="17.2" text-anchor="start" fill="#111" font-weight="bold" >a</text>
<defs>
<linearGradient id="lo" x1="0" x2="1" y1="0" y2="0">
<stop offset="0" stop-color="#744399"/>
<stop offset="0.10" stop-color="#9a6fb0"/>
<stop offset="0.18" stop-color="#c9a9cf"/>
<stop offset="0.25" stop-color="#efdce0"/>
<stop offset="0.375" stop-color="#f9eef0"/>
<stop offset="0.5" stop-color="#ffffff"/>
<stop offset="0.6" stop-color="#e6f1dd"/>
<stop offset="0.7" stop-color="#c9e2b4"/>
<stop offset="0.75" stop-color="#b8d795"/>
<stop offset="0.875" stop-color="#8ec27a"/>
<stop offset="1" stop-color="#52935a"/>
</linearGradient>
<linearGradient id="bl" x1="0" x2="1" y1="0" y2="0">
<stop offset="0" stop-color="#d2e8f8"/>
<stop offset="0.45" stop-color="#86c2ec"/>
<stop offset="0.7" stop-color="#66a6d6"/>
<stop offset="1" stop-color="#3e6c93"/>
</linearGradient>
<linearGradient id="rd" x1="0" x2="1" y1="0" y2="0">
<stop offset="0" stop-color="#eab0b2"/>
<stop offset="0.45" stop-color="#d9585d"/>
<stop offset="0.75" stop-color="#cc3035"/>
<stop offset="1" stop-color="#b21b20"/>
</linearGradient>
</defs>
<rect x="381.3" y="63.9" width="182.70" height="17.50" fill="url(#lo)" stroke="#111" stroke-width="1.3"/>
<line x1="381.30" y1="81.4" x2="381.30" y2="85.20" stroke="#111" stroke-width="1.1"/>
<text x="380.90" y="98.60" font-size="10.8" text-anchor="middle" fill="#1a1a1a" stroke="#1a1a1a" stroke-width="0.22" >&#8722;2</text>
<line x1="404.14" y1="81.4" x2="404.14" y2="85.20" stroke="#111" stroke-width="1.1"/>
<text x="403.74" y="98.60" font-size="10.8" text-anchor="middle" fill="#1a1a1a" stroke="#1a1a1a" stroke-width="0.22" >&#8722;1.5</text>
<line x1="426.98" y1="81.4" x2="426.98" y2="85.20" stroke="#111" stroke-width="1.1"/>
<text x="426.58" y="98.60" font-size="10.8" text-anchor="middle" fill="#1a1a1a" stroke="#1a1a1a" stroke-width="0.22" >&#8722;1</text>
<line x1="449.81" y1="81.4" x2="449.81" y2="85.20" stroke="#111" stroke-width="1.1"/>
<text x="449.41" y="98.60" font-size="10.8" text-anchor="middle" fill="#1a1a1a" stroke="#1a1a1a" stroke-width="0.22" >&#8722;0.5</text>
<line x1="472.65" y1="81.4" x2="472.65" y2="85.20" stroke="#111" stroke-width="1.1"/>
<text x="472.65" y="98.60" font-size="10.8" text-anchor="middle" fill="#1a1a1a" stroke="#1a1a1a" stroke-width="0.22" >0</text>
<line x1="495.49" y1="81.4" x2="495.49" y2="85.20" stroke="#111" stroke-width="1.1"/>
<text x="495.49" y="98.60" font-size="10.8" text-anchor="middle" fill="#1a1a1a" stroke="#1a1a1a" stroke-width="0.22" >0.5</text>
<line x1="518.33" y1="81.4" x2="518.33" y2="85.20" stroke="#111" stroke-width="1.1"/>
<text x="518.33" y="98.60" font-size="10.8" text-anchor="middle" fill="#1a1a1a" stroke="#1a1a1a" stroke-width="0.22" >1</text>
<line x1="541.16" y1="81.4" x2="541.16" y2="85.20" stroke="#111" stroke-width="1.1"/>
<text x="541.16" y="98.60" font-size="10.8" text-anchor="middle" fill="#1a1a1a" stroke="#1a1a1a" stroke-width="0.22" >1.5</text>
<line x1="564.00" y1="81.4" x2="564.00" y2="85.20" stroke="#111" stroke-width="1.1"/>
<text x="564.00" y="98.60" font-size="10.8" text-anchor="middle" fill="#1a1a1a" stroke="#1a1a1a" stroke-width="0.22" >2</text>
<text x="472.65" y="58.60" font-size="12.7" text-anchor="middle" fill="#1a1a1a" stroke="#1a1a1a" stroke-width="0.22" >Log odds</text>
<text x="0.60" y="459.00" font-size="17.5" text-anchor="start" fill="#111" font-weight="bold" >b</text>
<rect x="72.90" y="465.6" width="50.14" height="131.60000000000002" fill="#fdf4e7"/>
<rect x="171.97" y="465.6" width="39.83" height="131.60000000000002" fill="#fdf4e7"/>
<rect x="250.26" y="465.6" width="36.39" height="131.60000000000002" fill="#fdf4e7"/>
<rect x="321.07" y="465.6" width="32.01" height="131.60000000000002" fill="#fdf4e7"/>
<rect x="382.53" y="465.6" width="28.41" height="131.60000000000002" fill="#fdf4e7"/>
<rect x="438.20" y="465.6" width="27.16" height="131.60000000000002" fill="#fdf4e7"/>
<rect x="492.29" y="465.6" width="23.18" height="131.60000000000002" fill="#fdf4e7"/>
<rect x="537.05" y="465.6" width="20.62" height="131.60000000000002" fill="#fdf4e7"/>
<rect x="575.85" y="465.6" width="16.34" height="131.60000000000002" fill="#fdf4e7"/>
<rect x="607.90" y="465.6" width="11.89" height="131.60000000000002" fill="#fdf4e7"/>
<rect x="632.46" y="465.6" width="9.68" height="131.60000000000002" fill="#fdf4e7"/>
<rect x="652.46" y="465.6" width="31.24" height="131.60000000000002" fill="#fdf4e7"/>
<line x1="72.9" y1="498.5" x2="683.7" y2="498.5" stroke="#cdcdcd" stroke-width="1" stroke-dasharray="1.3 2.7"/>
<line x1="72.9" y1="564.5" x2="683.7" y2="564.5" stroke="#cdcdcd" stroke-width="1" stroke-dasharray="1.3 2.7"/>
<line x1="98.05" y1="465.6" x2="98.05" y2="597.2" stroke="#c4c4c4" stroke-width="1.3" stroke-dasharray="7.8 3.4" stroke-dashoffset="10.4"/>
<line x1="141.81" y1="465.6" x2="141.81" y2="597.2" stroke="#c4c4c4" stroke-width="1.3" stroke-dasharray="7.8 3.4" stroke-dashoffset="10.4"/>
<line x1="190.28" y1="465.6" x2="190.28" y2="597.2" stroke="#c4c4c4" stroke-width="1.3" stroke-dasharray="7.8 3.4" stroke-dashoffset="10.4"/>
<line x1="221.94" y1="465.6" x2="221.94" y2="597.2" stroke="#c4c4c4" stroke-width="1.3" stroke-dasharray="7.8 3.4" stroke-dashoffset="10.4"/>
<line x1="260.00" y1="465.6" x2="260.00" y2="597.2" stroke="#c4c4c4" stroke-width="1.3" stroke-dasharray="7.8 3.4" stroke-dashoffset="10.4"/>
<line x1="298.92" y1="465.6" x2="298.92" y2="597.2" stroke="#c4c4c4" stroke-width="1.3" stroke-dasharray="7.8 3.4" stroke-dashoffset="10.4"/>
<line x1="333.13" y1="465.6" x2="333.13" y2="597.2" stroke="#c4c4c4" stroke-width="1.3" stroke-dasharray="7.8 3.4" stroke-dashoffset="10.4"/>
<line x1="362.26" y1="465.6" x2="362.26" y2="597.2" stroke="#c4c4c4" stroke-width="1.3" stroke-dasharray="7.8 3.4" stroke-dashoffset="10.4"/>
<line x1="392.39" y1="465.6" x2="392.39" y2="597.2" stroke="#c4c4c4" stroke-width="1.3" stroke-dasharray="7.8 3.4" stroke-dashoffset="10.4"/>
<line x1="419.03" y1="465.6" x2="419.03" y2="597.2" stroke="#c4c4c4" stroke-width="1.3" stroke-dasharray="7.8 3.4" stroke-dashoffset="10.4"/>
<line x1="449.00" y1="465.6" x2="449.00" y2="597.2" stroke="#c4c4c4" stroke-width="1.3" stroke-dasharray="7.8 3.4" stroke-dashoffset="10.4"/>
<line x1="472.56" y1="465.6" x2="472.56" y2="597.2" stroke="#c4c4c4" stroke-width="1.3" stroke-dasharray="7.8 3.4" stroke-dashoffset="10.4"/>
<line x1="495.89" y1="465.6" x2="495.89" y2="597.2" stroke="#c4c4c4" stroke-width="1.3" stroke-dasharray="7.8 3.4" stroke-dashoffset="10.4"/>
<line x1="519.00" y1="465.6" x2="519.00" y2="597.2" stroke="#c4c4c4" stroke-width="1.3" stroke-dasharray="7.8 3.4" stroke-dashoffset="10.4"/>
<line x1="540.87" y1="465.6" x2="540.87" y2="597.2" stroke="#c4c4c4" stroke-width="1.3" stroke-dasharray="7.8 3.4" stroke-dashoffset="10.4"/>
<line x1="565.03" y1="465.6" x2="565.03" y2="597.2" stroke="#c4c4c4" stroke-width="1.3" stroke-dasharray="7.8 3.4" stroke-dashoffset="10.4"/>
<line x1="580.68" y1="465.6" x2="580.68" y2="597.2" stroke="#c4c4c4" stroke-width="1.3" stroke-dasharray="7.8 3.4" stroke-dashoffset="10.4"/>
<line x1="595.64" y1="465.6" x2="595.64" y2="597.2" stroke="#c4c4c4" stroke-width="1.3" stroke-dasharray="7.8 3.4" stroke-dashoffset="10.4"/>
<line x1="613.23" y1="465.6" x2="613.23" y2="597.2" stroke="#c4c4c4" stroke-width="1.3" stroke-dasharray="7.8 3.4" stroke-dashoffset="10.4"/>
<line x1="625.32" y1="465.6" x2="625.32" y2="597.2" stroke="#c4c4c4" stroke-width="1.3" stroke-dasharray="7.8 3.4" stroke-dashoffset="10.4"/>
<line x1="635.12" y1="465.6" x2="635.12" y2="597.2" stroke="#c4c4c4" stroke-width="1.3" stroke-dasharray="7.8 3.4" stroke-dashoffset="10.4"/>
<line x1="645.09" y1="465.6" x2="645.09" y2="597.2" stroke="#c4c4c4" stroke-width="1.3" stroke-dasharray="7.8 3.4" stroke-dashoffset="10.4"/>
<line x1="664.65" y1="465.6" x2="664.65" y2="597.2" stroke="#c4c4c4" stroke-width="1.3" stroke-dasharray="7.8 3.4" stroke-dashoffset="10.4"/>
<line x1="123.04" y1="465.6" x2="123.04" y2="597.2" stroke="#b3afaa" stroke-width="1.5"/>
<line x1="171.97" y1="465.6" x2="171.97" y2="597.2" stroke="#b3afaa" stroke-width="1.5"/>
<line x1="211.80" y1="465.6" x2="211.80" y2="597.2" stroke="#b3afaa" stroke-width="1.5"/>
<line x1="250.26" y1="465.6" x2="250.26" y2="597.2" stroke="#b3afaa" stroke-width="1.5"/>
<line x1="286.65" y1="465.6" x2="286.65" y2="597.2" stroke="#b3afaa" stroke-width="1.5"/>
<line x1="321.07" y1="465.6" x2="321.07" y2="597.2" stroke="#b3afaa" stroke-width="1.5"/>
<line x1="353.08" y1="465.6" x2="353.08" y2="597.2" stroke="#b3afaa" stroke-width="1.5"/>
<line x1="382.53" y1="465.6" x2="382.53" y2="597.2" stroke="#b3afaa" stroke-width="1.5"/>
<line x1="410.94" y1="465.6" x2="410.94" y2="597.2" stroke="#b3afaa" stroke-width="1.5"/>
<line x1="438.20" y1="465.6" x2="438.20" y2="597.2" stroke="#b3afaa" stroke-width="1.5"/>
<line x1="465.36" y1="465.6" x2="465.36" y2="597.2" stroke="#b3afaa" stroke-width="1.5"/>
<line x1="492.29" y1="465.6" x2="492.29" y2="597.2" stroke="#b3afaa" stroke-width="1.5"/>
<line x1="515.46" y1="465.6" x2="515.46" y2="597.2" stroke="#b3afaa" stroke-width="1.5"/>
<line x1="537.05" y1="465.6" x2="537.05" y2="597.2" stroke="#b3afaa" stroke-width="1.5"/>
<line x1="557.67" y1="465.6" x2="557.67" y2="597.2" stroke="#b3afaa" stroke-width="1.5"/>
<line x1="575.85" y1="465.6" x2="575.85" y2="597.2" stroke="#b3afaa" stroke-width="1.5"/>
<line x1="592.18" y1="465.6" x2="592.18" y2="597.2" stroke="#b3afaa" stroke-width="1.5"/>
<line x1="607.90" y1="465.6" x2="607.90" y2="597.2" stroke="#b3afaa" stroke-width="1.5"/>
<line x1="619.79" y1="465.6" x2="619.79" y2="597.2" stroke="#b3afaa" stroke-width="1.5"/>
<line x1="632.46" y1="465.6" x2="632.46" y2="597.2" stroke="#b3afaa" stroke-width="1.5"/>
<line x1="642.14" y1="465.6" x2="642.14" y2="597.2" stroke="#b3afaa" stroke-width="1.5"/>
<line x1="652.46" y1="465.6" x2="652.46" y2="597.2" stroke="#b3afaa" stroke-width="1.5"/>
<line x1="72.9" y1="531.5" x2="683.7" y2="531.5" stroke="#9a9a9a" stroke-width="0.9"/>
<rect x="84.40" y="523.00" width="1.40" height="8.50" fill="#ad2428"/>
<rect x="101.90" y="491.00" width="1.40" height="40.50" fill="#ad2428"/>
<rect x="107.40" y="486.50" width="1.40" height="45.00" fill="#ad2428"/>
<rect x="116.00" y="483.30" width="5.60" height="48.20" fill="#ad2428"/>
<rect x="199.35" y="512.00" width="1.40" height="19.50" fill="#ad2428"/>
<rect x="207.35" y="514.00" width="1.40" height="17.50" fill="#ad2428"/>
<rect x="280.40" y="517.00" width="1.40" height="14.50" fill="#ad2428"/>
<rect x="307.35" y="521.00" width="1.40" height="10.50" fill="#ad2428"/>
<rect x="320.35" y="511.00" width="1.40" height="20.50" fill="#ad2428"/>
<rect x="360.30" y="510.50" width="2.10" height="21.00" fill="#ad2428"/>
<rect x="366.80" y="500.00" width="1.40" height="31.50" fill="#ad2428"/>
<rect x="371.30" y="498.00" width="1.40" height="33.50" fill="#ad2428"/>
<rect x="375.20" y="494.00" width="1.60" height="37.50" fill="#ad2428"/>
<rect x="378.20" y="496.00" width="1.60" height="35.50" fill="#ad2428"/>
<rect x="412.30" y="515.00" width="1.40" height="16.50" fill="#ad2428"/>
<rect x="426.30" y="518.00" width="1.40" height="13.50" fill="#ad2428"/>
<rect x="444.30" y="519.80" width="1.40" height="11.70" fill="#ad2428"/>
<rect x="448.40" y="522.00" width="1.40" height="9.50" fill="#ad2428"/>
<rect x="451.20" y="509.00" width="1.40" height="22.50" fill="#ad2428"/>
<rect x="452.60" y="516.00" width="2.40" height="15.50" fill="#ad2428"/>
<rect x="471.30" y="518.00" width="1.40" height="13.50" fill="#ad2428"/>
<rect x="479.30" y="517.80" width="1.40" height="13.70" fill="#ad2428"/>
<rect x="540.30" y="523.00" width="1.40" height="8.50" fill="#ad2428"/>
<rect x="558.50" y="501.00" width="1.70" height="30.50" fill="#ad2428"/>
<rect x="571.35" y="520.00" width="1.40" height="11.50" fill="#ad2428"/>
<rect x="581.00" y="516.30" width="2.60" height="15.20" fill="#ad2428"/>
<rect x="583.60" y="515.30" width="1.80" height="16.20" fill="#ad2428"/>
<rect x="585.40" y="515.50" width="1.60" height="16.00" fill="#ad2428"/>
<rect x="587.00" y="509.20" width="2.00" height="22.30" fill="#ad2428"/>
<rect x="589.00" y="511.80" width="2.00" height="19.70" fill="#ad2428"/>
<rect x="591.00" y="510.60" width="1.40" height="20.90" fill="#ad2428"/>
<rect x="609.40" y="519.40" width="1.40" height="12.10" fill="#ad2428"/>
<rect x="614.00" y="515.70" width="1.50" height="15.80" fill="#ad2428"/>
<rect x="622.70" y="509.80" width="1.80" height="21.70" fill="#ad2428"/>
<rect x="624.50" y="504.50" width="1.60" height="27.00" fill="#ad2428"/>
<rect x="629.60" y="506.70" width="1.90" height="24.80" fill="#ad2428"/>
<rect x="635.00" y="518.40" width="1.80" height="13.10" fill="#ad2428"/>
<rect x="73.20" y="531.50" width="2.80" height="10.50" fill="#4483ba"/>
<rect x="82.50" y="531.50" width="1.50" height="8.50" fill="#4483ba"/>
<rect x="91.00" y="531.50" width="3.00" height="12.00" fill="#4483ba"/>
<rect x="127.00" y="531.50" width="2.00" height="5.20" fill="#4483ba"/>
<rect x="131.00" y="531.50" width="1.50" height="3.50" fill="#4483ba"/>
<rect x="134.50" y="531.50" width="1.50" height="4.50" fill="#4483ba"/>
<rect x="149.50" y="531.50" width="1.50" height="4.50" fill="#4483ba"/>
<rect x="156.50" y="531.50" width="1.50" height="5.20" fill="#4483ba"/>
<rect x="163.50" y="531.50" width="1.50" height="6.10" fill="#4483ba"/>
<rect x="171.00" y="531.50" width="1.50" height="5.50" fill="#4483ba"/>
<rect x="181.00" y="531.50" width="2.00" height="11.10" fill="#4483ba"/>
<rect x="183.00" y="531.50" width="4.60" height="13.10" fill="#4483ba"/>
<rect x="189.50" y="531.50" width="1.50" height="4.50" fill="#4483ba"/>
<rect x="199.30" y="531.50" width="1.40" height="3.50" fill="#4483ba"/>
<rect x="211.80" y="531.50" width="8.80" height="14.50" fill="#4483ba"/>
<rect x="225.50" y="531.50" width="1.50" height="5.50" fill="#4483ba"/>
<rect x="228.00" y="531.50" width="1.50" height="6.50" fill="#4483ba"/>
<rect x="248.30" y="531.50" width="1.70" height="9.30" fill="#4483ba"/>
<rect x="263.50" y="531.50" width="1.50" height="11.10" fill="#4483ba"/>
<rect x="275.50" y="531.50" width="1.50" height="8.20" fill="#4483ba"/>
<rect x="286.50" y="531.50" width="1.50" height="5.20" fill="#4483ba"/>
<rect x="300.50" y="531.50" width="1.50" height="12.50" fill="#4483ba"/>
<rect x="308.50" y="531.50" width="1.50" height="12.50" fill="#4483ba"/>
<rect x="320.50" y="531.50" width="1.50" height="12.50" fill="#4483ba"/>
<rect x="322.50" y="531.50" width="1.50" height="3.50" fill="#4483ba"/>
<rect x="333.50" y="531.50" width="1.50" height="4.50" fill="#4483ba"/>
<rect x="351.60" y="531.50" width="2.00" height="2.50" fill="#4483ba"/>
<rect x="353.60" y="531.50" width="5.30" height="24.20" fill="#4483ba"/>
<rect x="372.30" y="531.50" width="1.40" height="1.50" fill="#4483ba"/>
<rect x="383.70" y="531.50" width="3.80" height="14.50" fill="#4483ba"/>
<rect x="400.50" y="531.50" width="1.50" height="6.50" fill="#4483ba"/>
<rect x="404.50" y="531.50" width="1.50" height="8.20" fill="#4483ba"/>
<rect x="425.00" y="531.50" width="5.70" height="8.20" fill="#4483ba"/>
<rect x="455.50" y="531.50" width="1.50" height="12.50" fill="#4483ba"/>
<rect x="461.50" y="531.50" width="1.50" height="19.00" fill="#4483ba"/>
<rect x="466.00" y="531.50" width="3.00" height="8.50" fill="#4483ba"/>
<rect x="471.50" y="531.50" width="1.50" height="7.50" fill="#4483ba"/>
<rect x="475.50" y="531.50" width="1.50" height="4.50" fill="#4483ba"/>
<rect x="489.00" y="531.50" width="1.50" height="7.30" fill="#4483ba"/>
<rect x="502.00" y="531.50" width="1.50" height="15.50" fill="#4483ba"/>
<rect x="522.50" y="531.50" width="1.50" height="7.50" fill="#4483ba"/>
<rect x="530.00" y="531.50" width="1.50" height="11.10" fill="#4483ba"/>
<rect x="540.50" y="531.50" width="1.50" height="12.00" fill="#4483ba"/>
<rect x="545.00" y="531.50" width="3.00" height="10.20" fill="#4483ba"/>
<rect x="552.50" y="531.50" width="1.50" height="14.90" fill="#4483ba"/>
<rect x="571.00" y="531.50" width="2.00" height="31.40" fill="#4483ba"/>
<rect x="573.60" y="531.50" width="4.10" height="29.80" fill="#4483ba"/>
<rect x="577.65" y="531.50" width="1.40" height="23.20" fill="#4483ba"/>
<rect x="580.80" y="531.50" width="2.00" height="11.40" fill="#4483ba"/>
<rect x="592.00" y="531.50" width="1.60" height="10.40" fill="#4483ba"/>
<rect x="607.00" y="531.50" width="1.80" height="10.40" fill="#4483ba"/>
<rect x="619.40" y="531.50" width="1.40" height="4.20" fill="#4483ba"/>
<rect x="72.9" y="465.6" width="610.80" height="131.60" fill="none" stroke="#111" stroke-width="1.5"/>
<line x1="67.70" y1="465.60" x2="72.9" y2="465.60" stroke="#111" stroke-width="1.3"/>
<text x="62.40" y="469.00" font-size="11.0" text-anchor="end" fill="#1a1a1a" stroke="#1a1a1a" stroke-width="0.22" >100</text>
<line x1="67.70" y1="498.50" x2="72.9" y2="498.50" stroke="#111" stroke-width="1.3"/>
<text x="62.40" y="501.90" font-size="11.0" text-anchor="end" fill="#1a1a1a" stroke="#1a1a1a" stroke-width="0.22" >50</text>
<line x1="67.70" y1="531.40" x2="72.9" y2="531.40" stroke="#111" stroke-width="1.3"/>
<text x="62.40" y="534.80" font-size="11.0" text-anchor="end" fill="#1a1a1a" stroke="#1a1a1a" stroke-width="0.22" >0</text>
<line x1="67.70" y1="564.30" x2="72.9" y2="564.30" stroke="#111" stroke-width="1.3"/>
<text x="62.40" y="567.70" font-size="11.0" text-anchor="end" fill="#1a1a1a" stroke="#1a1a1a" stroke-width="0.22" >50</text>
<line x1="67.70" y1="597.20" x2="72.9" y2="597.20" stroke="#111" stroke-width="1.3"/>
<text x="62.40" y="600.60" font-size="11.0" text-anchor="end" fill="#1a1a1a" stroke="#1a1a1a" stroke-width="0.22" >100</text>
<text transform="translate(11.60,486.10) rotate(-90)" font-size="12.6" text-anchor="middle" fill="#b3262e" stroke="#b3262e" stroke-width="0.22" >AMP</text>
<text transform="translate(11.30,571.90) rotate(-90)" font-size="12.9" text-anchor="middle" fill="#4b80b3" stroke="#4b80b3" stroke-width="0.22" >DEL</text>
<text transform="translate(34.60,531.90) rotate(-90)" font-size="12.8" text-anchor="middle" fill="#1a1a1a" stroke="#1a1a1a" stroke-width="0.22" >% samples</text>
<line x1="17.5" y1="474" x2="17.5" y2="505.6" stroke="#a8242c" stroke-width="1.25"/>
<path d="M15.2 475.6 L17.5 471.2 L19.8 475.6 Z" fill="#a8242c"/>
<line x1="17.5" y1="557.1" x2="17.5" y2="589" stroke="#4a7aab" stroke-width="1.25"/>
<path d="M15.2 587.2 L17.5 591.6 L19.8 587.2 Z" fill="#4a7aab"/>
<rect x="72.3" y="617.30" width="610.90" height="13.54" fill="#ffffff"/>
<rect x="72.3" y="630.84" width="610.90" height="13.54" fill="#f0f0f0"/>
<rect x="72.3" y="644.38" width="610.90" height="13.54" fill="#ffffff"/>
<rect x="72.3" y="657.92" width="610.90" height="13.54" fill="#f0f0f0"/>
<rect x="72.3" y="671.46" width="610.90" height="13.54" fill="#ffffff"/>
<rect x="72.3" y="685.00" width="610.90" height="13.54" fill="#f0f0f0"/>
<rect x="72.3" y="698.54" width="610.90" height="13.54" fill="#ffffff"/>
<rect x="72.3" y="712.08" width="610.90" height="13.54" fill="#f0f0f0"/>
<rect x="72.3" y="725.62" width="610.90" height="13.54" fill="#ffffff"/>
<rect x="72.3" y="739.16" width="610.90" height="13.54" fill="#f0f0f0"/>
<rect x="72.3" y="752.70" width="610.90" height="13.54" fill="#ffffff"/>
<rect x="72.3" y="766.24" width="610.90" height="13.54" fill="#f0f0f0"/>
<rect x="72.3" y="779.78" width="610.90" height="13.54" fill="#ffffff"/>
<rect x="72.3" y="793.32" width="610.90" height="13.54" fill="#f0f0f0"/>
<rect x="72.3" y="806.86" width="610.90" height="13.54" fill="#ffffff"/>
<rect x="72.3" y="820.40" width="610.90" height="13.54" fill="#f0f0f0"/>
<rect x="81.35" y="617.30" width="1.50" height="13.54" fill="#8dbde0"/>
<rect x="84.15" y="617.30" width="1.50" height="13.54" fill="#d23a3e"/>
<rect x="170.65" y="617.30" width="1.50" height="13.54" fill="#8dbde0"/>
<rect x="180.20" y="617.30" width="6.90" height="13.54" fill="#6a9fcc"/>
<rect x="188.65" y="617.30" width="1.50" height="13.54" fill="#6a9fcc"/>
<rect x="198.85" y="617.30" width="1.50" height="13.54" fill="#d23a3e"/>
<rect x="205.95" y="617.30" width="1.50" height="13.54" fill="#d23a3e"/>
<rect x="210.20" y="617.30" width="9.50" height="13.54" fill="#6a9fcc"/>
<rect x="227.25" y="617.30" width="1.50" height="13.54" fill="#8dbde0"/>
<rect x="247.25" y="617.30" width="1.50" height="13.54" fill="#6a9fcc"/>
<rect x="262.25" y="617.30" width="1.50" height="13.54" fill="#8dbde0"/>
<rect x="273.85" y="617.30" width="1.50" height="13.54" fill="#8dbde0"/>
<rect x="285.05" y="617.30" width="1.50" height="13.54" fill="#6a9fcc"/>
<rect x="307.25" y="617.30" width="1.50" height="13.54" fill="#d23a3e"/>
<rect x="366.25" y="617.30" width="1.50" height="13.54" fill="#d23a3e"/>
<rect x="370.35" y="617.30" width="1.50" height="13.54" fill="#d23a3e"/>
<rect x="374.75" y="617.30" width="1.50" height="13.54" fill="#d23a3e"/>
<rect x="377.45" y="617.30" width="1.50" height="13.54" fill="#d23a3e"/>
<rect x="411.75" y="617.30" width="1.50" height="13.54" fill="#b8161c"/>
<rect x="426.15" y="617.30" width="1.50" height="13.54" fill="#d23a3e"/>
<rect x="443.65" y="617.30" width="1.50" height="13.54" fill="#d23a3e"/>
<rect x="454.05" y="617.30" width="1.50" height="13.54" fill="#8dbde0"/>
<rect x="459.85" y="617.30" width="1.50" height="13.54" fill="#8dbde0"/>
<rect x="469.55" y="617.30" width="1.50" height="13.54" fill="#d23a3e"/>
<rect x="543.75" y="617.30" width="1.50" height="13.54" fill="#8dbde0"/>
<rect x="546.05" y="617.30" width="1.50" height="13.54" fill="#8dbde0"/>
<rect x="569.90" y="617.30" width="1.70" height="13.54" fill="#6a9fcc"/>
<rect x="573.70" y="617.30" width="1.90" height="13.54" fill="#4a7fae"/>
<rect x="580.55" y="617.30" width="1.50" height="13.54" fill="#8dbde0"/>
<rect x="606.15" y="617.30" width="1.50" height="13.54" fill="#6a9fcc"/>
<rect x="612.95" y="617.30" width="1.50" height="13.54" fill="#d23a3e"/>
<rect x="618.55" y="617.30" width="1.50" height="13.54" fill="#8dbde0"/>
<rect x="629.05" y="617.30" width="1.50" height="13.54" fill="#d23a3e"/>
<rect x="634.85" y="617.30" width="1.50" height="13.54" fill="#d23a3e"/>
<rect x="72.70" y="630.84" width="2.20" height="13.54" fill="#6a9fcc"/>
<rect x="84.15" y="630.84" width="1.50" height="13.54" fill="#d23a3e"/>
<rect x="182.20" y="630.84" width="4.90" height="13.54" fill="#6a9fcc"/>
<rect x="307.25" y="630.84" width="1.50" height="13.54" fill="#d23a3e"/>
<rect x="411.75" y="630.84" width="1.50" height="13.54" fill="#b8161c"/>
<rect x="443.65" y="630.84" width="1.50" height="13.54" fill="#d23a3e"/>
<rect x="450.10" y="630.84" width="2.10" height="13.54" fill="#b8161c"/>
<rect x="557.45" y="630.84" width="1.50" height="13.54" fill="#d23a3e"/>
<rect x="569.90" y="630.84" width="1.70" height="13.54" fill="#6a9fcc"/>
<rect x="573.70" y="630.84" width="1.90" height="13.54" fill="#4a7fae"/>
<rect x="584.50" y="630.84" width="7.30" height="13.54" fill="#e03c3e"/>
<rect x="587.50" y="630.84" width="2.10" height="13.54" fill="#c8262a"/>
<rect x="100.75" y="644.38" width="1.50" height="13.54" fill="#d23a3e"/>
<rect x="106.65" y="644.38" width="1.50" height="13.54" fill="#d23a3e"/>
<rect x="115.20" y="644.38" width="5.70" height="13.54" fill="#d23a3e"/>
<rect x="206.25" y="644.38" width="1.50" height="13.54" fill="#d23a3e"/>
<rect x="374.75" y="644.38" width="1.50" height="13.54" fill="#d23a3e"/>
<rect x="377.45" y="644.38" width="1.50" height="13.54" fill="#d23a3e"/>
<rect x="424.70" y="644.38" width="5.10" height="13.54" fill="#4a7fae"/>
<rect x="454.05" y="644.38" width="1.50" height="13.54" fill="#8dbde0"/>
<rect x="459.85" y="644.38" width="1.50" height="13.54" fill="#8dbde0"/>
<rect x="469.55" y="644.38" width="1.50" height="13.54" fill="#d23a3e"/>
<rect x="569.90" y="644.38" width="1.70" height="13.54" fill="#6a9fcc"/>
<rect x="573.70" y="644.38" width="1.90" height="13.54" fill="#4a7fae"/>
<rect x="586.70" y="644.38" width="5.10" height="13.54" fill="#f0b0b0"/>
<rect x="586.65" y="644.38" width="1.50" height="13.54" fill="#d23a3e"/>
<rect x="590.35" y="644.38" width="1.50" height="13.54" fill="#d23a3e"/>
<rect x="629.05" y="644.38" width="1.50" height="13.54" fill="#d23a3e"/>
<rect x="262.25" y="657.92" width="1.50" height="13.54" fill="#8dbde0"/>
<rect x="273.85" y="657.92" width="1.50" height="13.54" fill="#8dbde0"/>
<rect x="426.20" y="657.92" width="3.60" height="13.54" fill="#8dbde0"/>
<rect x="528.75" y="657.92" width="1.50" height="13.54" fill="#8dbde0"/>
<rect x="569.90" y="657.92" width="1.70" height="13.54" fill="#6a9fcc"/>
<rect x="573.70" y="657.92" width="1.90" height="13.54" fill="#4a7fae"/>
<rect x="587.45" y="657.92" width="1.50" height="13.54" fill="#d23a3e"/>
<rect x="618.55" y="657.92" width="1.50" height="13.54" fill="#6a9fcc"/>
<rect x="100.75" y="671.46" width="1.50" height="13.54" fill="#d23a3e"/>
<rect x="106.65" y="671.46" width="1.50" height="13.54" fill="#d23a3e"/>
<rect x="115.20" y="671.46" width="5.70" height="13.54" fill="#b8161c"/>
<rect x="307.25" y="671.46" width="1.50" height="13.54" fill="#d23a3e"/>
<rect x="569.90" y="671.46" width="1.70" height="13.54" fill="#6a9fcc"/>
<rect x="573.70" y="671.46" width="1.90" height="13.54" fill="#4a7fae"/>
<rect x="587.40" y="671.46" width="2.20" height="13.54" fill="#b8161c"/>
<rect x="90.20" y="685.00" width="3.10" height="13.54" fill="#6a9fcc"/>
<rect x="307.25" y="685.00" width="1.50" height="13.54" fill="#d23a3e"/>
<rect x="544.35" y="685.00" width="1.50" height="13.54" fill="#8dbde0"/>
<rect x="557.45" y="685.00" width="1.50" height="13.54" fill="#d23a3e"/>
<rect x="180.25" y="698.54" width="1.50" height="13.54" fill="#4a7fae"/>
<rect x="247.25" y="698.54" width="1.50" height="13.54" fill="#6a9fcc"/>
<rect x="262.25" y="698.54" width="1.50" height="13.54" fill="#6a9fcc"/>
<rect x="273.85" y="698.54" width="1.50" height="13.54" fill="#6a9fcc"/>
<rect x="206.25" y="712.08" width="1.50" height="13.54" fill="#d23a3e"/>
<rect x="352.40" y="712.08" width="5.30" height="13.54" fill="#6a9fcc"/>
<rect x="579.80" y="712.08" width="3.80" height="13.54" fill="#b8161c"/>
<rect x="459.85" y="725.62" width="1.50" height="13.54" fill="#6a9fcc"/>
<rect x="573.60" y="725.62" width="2.40" height="13.54" fill="#6a9fcc"/>
<rect x="573.60" y="739.16" width="2.40" height="13.54" fill="#6a9fcc"/>
<rect x="586.30" y="739.16" width="2.00" height="13.54" fill="#d23a3e"/>
<rect x="377.95" y="752.70" width="1.50" height="13.54" fill="#d23a3e"/>
<rect x="425.80" y="766.24" width="3.90" height="13.54" fill="#6a9fcc"/>
<rect x="580.45" y="779.78" width="1.50" height="13.54" fill="#6a9fcc"/>
<rect x="454.05" y="793.32" width="1.50" height="13.54" fill="#6a9fcc"/>
<rect x="574.70" y="806.86" width="3.90" height="13.54" fill="#4a7fae"/>
<rect x="574.70" y="820.40" width="3.90" height="13.54" fill="#4a7fae"/>
<line x1="72.3" y1="617.30" x2="683.2" y2="617.30" stroke="#bdbdbd" stroke-width="1.1"/>
<line x1="72.3" y1="630.84" x2="683.2" y2="630.84" stroke="#bdbdbd" stroke-width="1.1"/>
<line x1="72.3" y1="644.38" x2="683.2" y2="644.38" stroke="#bdbdbd" stroke-width="1.1"/>
<line x1="72.3" y1="657.92" x2="683.2" y2="657.92" stroke="#bdbdbd" stroke-width="1.1"/>
<line x1="72.3" y1="671.46" x2="683.2" y2="671.46" stroke="#bdbdbd" stroke-width="1.1"/>
<line x1="72.3" y1="685.00" x2="683.2" y2="685.00" stroke="#bdbdbd" stroke-width="1.1"/>
<line x1="72.3" y1="698.54" x2="683.2" y2="698.54" stroke="#bdbdbd" stroke-width="1.1"/>
<line x1="72.3" y1="712.08" x2="683.2" y2="712.08" stroke="#bdbdbd" stroke-width="1.1"/>
<line x1="72.3" y1="725.62" x2="683.2" y2="725.62" stroke="#bdbdbd" stroke-width="1.1"/>
<line x1="72.3" y1="739.16" x2="683.2" y2="739.16" stroke="#bdbdbd" stroke-width="1.1"/>
<line x1="72.3" y1="752.70" x2="683.2" y2="752.70" stroke="#bdbdbd" stroke-width="1.1"/>
<line x1="72.3" y1="766.24" x2="683.2" y2="766.24" stroke="#bdbdbd" stroke-width="1.1"/>
<line x1="72.3" y1="779.78" x2="683.2" y2="779.78" stroke="#bdbdbd" stroke-width="1.1"/>
<line x1="72.3" y1="793.32" x2="683.2" y2="793.32" stroke="#bdbdbd" stroke-width="1.1"/>
<line x1="72.3" y1="806.86" x2="683.2" y2="806.86" stroke="#bdbdbd" stroke-width="1.1"/>
<line x1="72.3" y1="820.40" x2="683.2" y2="820.40" stroke="#bdbdbd" stroke-width="1.1"/>
<line x1="72.3" y1="833.94" x2="683.2" y2="833.94" stroke="#bdbdbd" stroke-width="1.1"/>
<line x1="72.3" y1="617.3" x2="72.3" y2="833.94" stroke="#bdbdbd" stroke-width="1.1"/>
<line x1="683.2" y1="617.3" x2="683.2" y2="833.94" stroke="#bdbdbd" stroke-width="1.1"/>
<line x1="122.54" y1="617.3" x2="122.54" y2="834.94" stroke="#111" stroke-width="1.6" stroke-dasharray="1.6 5.09" stroke-dashoffset="5.39"/>
<line x1="171.47" y1="617.3" x2="171.47" y2="834.94" stroke="#111" stroke-width="1.6" stroke-dasharray="1.6 5.09" stroke-dashoffset="5.39"/>
<line x1="211.30" y1="617.3" x2="211.30" y2="834.94" stroke="#111" stroke-width="1.6" stroke-dasharray="1.6 5.09" stroke-dashoffset="5.39"/>
<line x1="249.76" y1="617.3" x2="249.76" y2="834.94" stroke="#111" stroke-width="1.6" stroke-dasharray="1.6 5.09" stroke-dashoffset="5.39"/>
<line x1="286.15" y1="617.3" x2="286.15" y2="834.94" stroke="#111" stroke-width="1.6" stroke-dasharray="1.6 5.09" stroke-dashoffset="5.39"/>
<line x1="320.57" y1="617.3" x2="320.57" y2="834.94" stroke="#111" stroke-width="1.6" stroke-dasharray="1.6 5.09" stroke-dashoffset="5.39"/>
<line x1="352.58" y1="617.3" x2="352.58" y2="834.94" stroke="#111" stroke-width="1.6" stroke-dasharray="1.6 5.09" stroke-dashoffset="5.39"/>
<line x1="382.03" y1="617.3" x2="382.03" y2="834.94" stroke="#111" stroke-width="1.6" stroke-dasharray="1.6 5.09" stroke-dashoffset="5.39"/>
<line x1="410.44" y1="617.3" x2="410.44" y2="834.94" stroke="#111" stroke-width="1.6" stroke-dasharray="1.6 5.09" stroke-dashoffset="5.39"/>
<line x1="437.70" y1="617.3" x2="437.70" y2="834.94" stroke="#111" stroke-width="1.6" stroke-dasharray="1.6 5.09" stroke-dashoffset="5.39"/>
<line x1="464.86" y1="617.3" x2="464.86" y2="834.94" stroke="#111" stroke-width="1.6" stroke-dasharray="1.6 5.09" stroke-dashoffset="5.39"/>
<line x1="491.79" y1="617.3" x2="491.79" y2="834.94" stroke="#111" stroke-width="1.6" stroke-dasharray="1.6 5.09" stroke-dashoffset="5.39"/>
<line x1="514.96" y1="617.3" x2="514.96" y2="834.94" stroke="#111" stroke-width="1.6" stroke-dasharray="1.6 5.09" stroke-dashoffset="5.39"/>
<line x1="536.55" y1="617.3" x2="536.55" y2="834.94" stroke="#111" stroke-width="1.6" stroke-dasharray="1.6 5.09" stroke-dashoffset="5.39"/>
<line x1="557.17" y1="617.3" x2="557.17" y2="834.94" stroke="#111" stroke-width="1.6" stroke-dasharray="1.6 5.09" stroke-dashoffset="5.39"/>
<line x1="575.35" y1="617.3" x2="575.35" y2="834.94" stroke="#111" stroke-width="1.6" stroke-dasharray="1.6 5.09" stroke-dashoffset="5.39"/>
<line x1="591.68" y1="617.3" x2="591.68" y2="834.94" stroke="#111" stroke-width="1.6" stroke-dasharray="1.6 5.09" stroke-dashoffset="5.39"/>
<line x1="607.40" y1="617.3" x2="607.40" y2="834.94" stroke="#111" stroke-width="1.6" stroke-dasharray="1.6 5.09" stroke-dashoffset="5.39"/>
<line x1="619.29" y1="617.3" x2="619.29" y2="834.94" stroke="#111" stroke-width="1.6" stroke-dasharray="1.6 5.09" stroke-dashoffset="5.39"/>
<line x1="631.96" y1="617.3" x2="631.96" y2="834.94" stroke="#111" stroke-width="1.6" stroke-dasharray="1.6 5.09" stroke-dashoffset="5.39"/>
<line x1="641.64" y1="617.3" x2="641.64" y2="834.94" stroke="#111" stroke-width="1.6" stroke-dasharray="1.6 5.09" stroke-dashoffset="5.39"/>
<line x1="651.96" y1="617.3" x2="651.96" y2="834.94" stroke="#111" stroke-width="1.6" stroke-dasharray="1.6 5.09" stroke-dashoffset="5.39"/>
<circle cx="82.60" cy="624.07" r="1.95" fill="#111"/>
<circle cx="308.00" cy="624.07" r="1.95" fill="#111"/>
<circle cx="454.80" cy="624.07" r="1.95" fill="#111"/>
<circle cx="460.60" cy="624.07" r="1.95" fill="#111"/>
<circle cx="570.70" cy="624.07" r="1.95" fill="#111"/>
<circle cx="574.60" cy="624.07" r="1.95" fill="#111"/>
<circle cx="73.80" cy="637.61" r="1.95" fill="#111"/>
<circle cx="84.90" cy="637.61" r="1.95" fill="#111"/>
<circle cx="184.70" cy="637.61" r="1.95" fill="#111"/>
<circle cx="308.00" cy="637.61" r="1.95" fill="#111"/>
<circle cx="412.50" cy="637.61" r="1.95" fill="#111"/>
<circle cx="444.40" cy="637.61" r="1.95" fill="#111"/>
<circle cx="451.00" cy="637.61" r="1.95" fill="#111"/>
<circle cx="585.20" cy="637.61" r="1.95" fill="#111"/>
<circle cx="587.60" cy="637.61" r="1.95" fill="#111"/>
<circle cx="589.80" cy="637.61" r="1.95" fill="#111"/>
<circle cx="591.60" cy="637.61" r="1.95" fill="#111"/>
<circle cx="207.00" cy="651.15" r="1.95" fill="#111"/>
<circle cx="375.50" cy="651.15" r="1.95" fill="#111"/>
<circle cx="378.20" cy="651.15" r="1.95" fill="#111"/>
<circle cx="425.60" cy="651.15" r="1.95" fill="#111"/>
<circle cx="428.40" cy="651.15" r="1.95" fill="#111"/>
<circle cx="470.60" cy="651.15" r="1.95" fill="#111"/>
<circle cx="587.40" cy="651.15" r="1.95" fill="#111"/>
<circle cx="591.10" cy="651.15" r="1.95" fill="#111"/>
<circle cx="629.80" cy="651.15" r="1.95" fill="#111"/>
<circle cx="263.00" cy="664.69" r="1.95" fill="#111"/>
<circle cx="274.60" cy="664.69" r="1.95" fill="#111"/>
<circle cx="428.00" cy="664.69" r="1.95" fill="#111"/>
<circle cx="529.50" cy="664.69" r="1.95" fill="#111"/>
<circle cx="588.20" cy="664.69" r="1.95" fill="#111"/>
<circle cx="619.30" cy="664.69" r="1.95" fill="#111"/>
<circle cx="308.00" cy="678.23" r="1.95" fill="#111"/>
<circle cx="588.00" cy="678.23" r="1.95" fill="#111"/>
<circle cx="91.70" cy="691.77" r="1.95" fill="#111"/>
<circle cx="308.00" cy="691.77" r="1.95" fill="#111"/>
<circle cx="545.10" cy="691.77" r="1.95" fill="#111"/>
<circle cx="207.00" cy="718.85" r="1.95" fill="#111"/>
<circle cx="354.00" cy="718.85" r="1.95" fill="#111"/>
<circle cx="581.00" cy="718.85" r="1.95" fill="#111"/>
<circle cx="582.60" cy="718.85" r="1.95" fill="#111"/>
<circle cx="587.30" cy="745.93" r="1.95" fill="#111"/>
<circle cx="378.70" cy="759.47" r="1.95" fill="#111"/>
<text x="65.60" y="628.37" font-size="12.9" text-anchor="end" fill="#1a1a1a" stroke="#1a1a1a" stroke-width="0.22" font-style="italic" >TP53</text>
<text x="65.60" y="641.91" font-size="12.9" text-anchor="end" fill="#1a1a1a" stroke="#1a1a1a" stroke-width="0.22" font-style="italic" >MAP3K1</text>
<text x="65.60" y="655.45" font-size="12.9" text-anchor="end" fill="#1a1a1a" stroke="#1a1a1a" stroke-width="0.22" font-style="italic" >CDH1</text>
<text x="65.60" y="668.99" font-size="12.9" text-anchor="end" fill="#1a1a1a" stroke="#1a1a1a" stroke-width="0.22" font-style="italic" >PIK3CA</text>
<text x="65.60" y="682.53" font-size="12.9" text-anchor="end" fill="#1a1a1a" stroke="#1a1a1a" stroke-width="0.22" font-style="italic" >CBFB</text>
<text x="65.60" y="696.07" font-size="12.9" text-anchor="end" fill="#1a1a1a" stroke="#1a1a1a" stroke-width="0.22" font-style="italic" >GATA3</text>
<text x="65.60" y="709.61" font-size="12.9" text-anchor="end" fill="#1a1a1a" stroke="#1a1a1a" stroke-width="0.22" font-style="italic" >BRCA1</text>
<text x="65.60" y="723.15" font-size="12.9" text-anchor="end" fill="#1a1a1a" stroke="#1a1a1a" stroke-width="0.22" font-style="italic" >AKT1</text>
<text x="65.60" y="736.69" font-size="12.9" text-anchor="end" fill="#1a1a1a" stroke="#1a1a1a" stroke-width="0.22" font-style="italic" >SF3B1</text>
<text x="65.60" y="750.23" font-size="12.9" text-anchor="end" fill="#1a1a1a" stroke="#1a1a1a" stroke-width="0.22" font-style="italic" >KMT2C</text>
<text x="65.60" y="763.77" font-size="12.9" text-anchor="end" fill="#1a1a1a" stroke="#1a1a1a" stroke-width="0.22" font-style="italic" >TBX3</text>
<text x="65.60" y="777.31" font-size="12.9" text-anchor="end" fill="#1a1a1a" stroke="#1a1a1a" stroke-width="0.22" font-style="italic" >PTEN</text>
<text x="65.60" y="790.85" font-size="12.9" text-anchor="end" fill="#1a1a1a" stroke="#1a1a1a" stroke-width="0.22" font-style="italic" >NF1</text>
<text x="65.60" y="804.39" font-size="12.9" text-anchor="end" fill="#1a1a1a" stroke="#1a1a1a" stroke-width="0.22" font-style="italic" >MEN1</text>
<text x="65.60" y="817.93" font-size="12.9" text-anchor="end" fill="#1a1a1a" stroke="#1a1a1a" stroke-width="0.22" font-style="italic" >MAP2K4</text>
<text x="65.60" y="831.47" font-size="12.9" text-anchor="end" fill="#1a1a1a" stroke="#1a1a1a" stroke-width="0.22" font-style="italic" >GPS2</text>
<text x="97.97" y="848.70" font-size="12.7" text-anchor="middle" fill="#1a1a1a" stroke="#1a1a1a" stroke-width="0.22" >1</text>
<text x="191.89" y="848.70" font-size="12.7" text-anchor="middle" fill="#1a1a1a" stroke="#1a1a1a" stroke-width="0.22" >3</text>
<text x="268.46" y="848.70" font-size="12.7" text-anchor="middle" fill="#1a1a1a" stroke="#1a1a1a" stroke-width="0.22" >5</text>
<text x="337.08" y="848.70" font-size="12.7" text-anchor="middle" fill="#1a1a1a" stroke="#1a1a1a" stroke-width="0.22" >7</text>
<text x="396.74" y="848.70" font-size="12.7" text-anchor="middle" fill="#1a1a1a" stroke="#1a1a1a" stroke-width="0.22" >9</text>
<text x="451.78" y="848.70" font-size="12.7" text-anchor="middle" fill="#1a1a1a" stroke="#1a1a1a" stroke-width="0.22" >11</text>
<text x="503.88" y="848.70" font-size="12.7" text-anchor="middle" fill="#1a1a1a" stroke="#1a1a1a" stroke-width="0.22" >13</text>
<text x="547.36" y="848.70" font-size="12.7" text-anchor="middle" fill="#1a1a1a" stroke="#1a1a1a" stroke-width="0.22" >15</text>
<text x="584.02" y="848.70" font-size="12.7" text-anchor="middle" fill="#1a1a1a" stroke="#1a1a1a" stroke-width="0.22" >17</text>
<text x="613.84" y="848.70" font-size="12.7" text-anchor="middle" fill="#1a1a1a" stroke="#1a1a1a" stroke-width="0.22" >19</text>
<text x="637.30" y="848.70" font-size="12.7" text-anchor="middle" fill="#1a1a1a" stroke="#1a1a1a" stroke-width="0.22" >21</text>
<text x="668.08" y="848.70" font-size="12.7" text-anchor="middle" fill="#1a1a1a" stroke="#1a1a1a" stroke-width="0.22" >X</text>
<text x="377.00" y="870.20" font-size="13.1" text-anchor="middle" fill="#1a1a1a" stroke="#1a1a1a" stroke-width="0.22" >Chromosome</text>
<text x="377.30" y="889.00" font-size="12.9" text-anchor="middle" fill="#1a1a1a" stroke="#1a1a1a" stroke-width="0.22" >Absolute log odds</text>
<rect x="260.5" y="896.8" width="233.30" height="10.6" fill="url(#bl)" stroke="#111" stroke-width="1.3"/>
<rect x="260.5" y="912.4" width="233.30" height="10.4" fill="url(#rd)" stroke="#111" stroke-width="1.3"/>
<line x1="260.50" y1="922.8" x2="260.50" y2="927.3" stroke="#111" stroke-width="1.1"/>
<text x="260.50" y="941.60" font-size="10.8" text-anchor="middle" fill="#1a1a1a" stroke="#1a1a1a" stroke-width="0.22" >0</text>
<line x1="318.82" y1="922.8" x2="318.82" y2="927.3" stroke="#111" stroke-width="1.1"/>
<text x="318.82" y="941.60" font-size="10.8" text-anchor="middle" fill="#1a1a1a" stroke="#1a1a1a" stroke-width="0.22" >0.5</text>
<line x1="377.15" y1="922.8" x2="377.15" y2="927.3" stroke="#111" stroke-width="1.1"/>
<text x="377.15" y="941.60" font-size="10.8" text-anchor="middle" fill="#1a1a1a" stroke="#1a1a1a" stroke-width="0.22" >1</text>
<line x1="435.48" y1="922.8" x2="435.48" y2="927.3" stroke="#111" stroke-width="1.1"/>
<text x="435.48" y="941.60" font-size="10.8" text-anchor="middle" fill="#1a1a1a" stroke="#1a1a1a" stroke-width="0.22" >1.5</text>
<line x1="493.80" y1="922.8" x2="493.80" y2="927.3" stroke="#111" stroke-width="1.1"/>
<text x="493.80" y="941.60" font-size="10.8" text-anchor="middle" fill="#1a1a1a" stroke="#1a1a1a" stroke-width="0.22" >2</text>
<text x="253.60" y="906.00" font-size="12.85" text-anchor="end" fill="#4a8fc4" stroke="#4a8fc4" stroke-width="0.22" >Associated with DEL</text>
<text x="253.60" y="921.60" font-size="12.85" text-anchor="end" fill="#b8282c" stroke="#b8282c" stroke-width="0.22" >Associated with AMP</text>
<circle cx="517.2" cy="910.2" r="2.4" fill="#111"/>
<text x="525.30" y="909.20" font-size="12.9" text-anchor="start" fill="#1a1a1a" stroke="#1a1a1a" stroke-width="0.22" >Mutually</text>
<text x="525.30" y="921.30" font-size="12.9" text-anchor="start" fill="#1a1a1a" stroke="#1a1a1a" stroke-width="0.22" >exclusive</text>
</svg>
</body></html>
